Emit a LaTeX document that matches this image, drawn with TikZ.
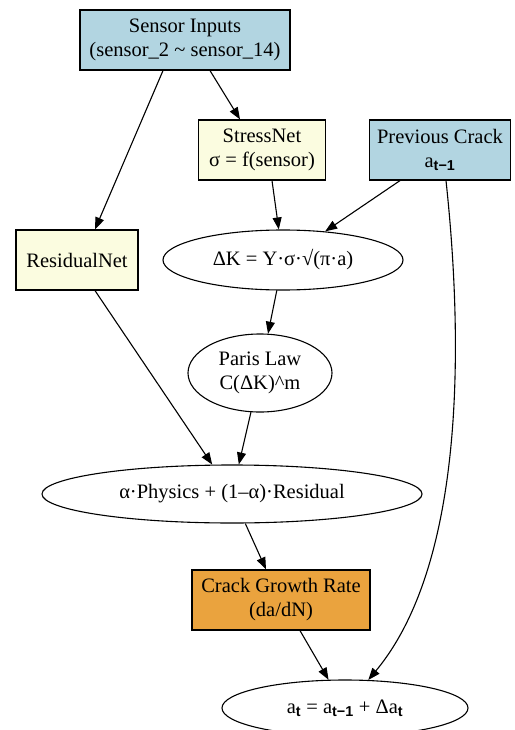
\documentclass[tikz,border=0pt]{standalone}
\usepackage{fontspec}
\setmainfont{Liberation Serif}
\newfontfamily\subf{Liberation Sans}
\usetikzlibrary{positioning, arrows.meta, shapes.geometric}
\definecolor{inblue}{HTML}{B2D5E1}
\definecolor{netyellow}{HTML}{FBFCE0}
\definecolor{rateorange}{HTML}{EAA33E}
\newcommand{\sbs}[1]{\textsubscript{\subf\bfseries #1}}

\begin{document}
\begin{tikzpicture}[x=1pt, y=-1pt,
      every node/.style={font=\fontsize{20.5}{24}\selectfont, align=center},
      box/.style={draw, line width=1.2pt, rectangle, inner sep=0pt},
      inbox/.style={box, fill=inblue},
      netbox/.style={box, fill=netyellow},
      ratebox/.style={box, fill=rateorange},
      formula/.style={draw, line width=1.1pt, ellipse, inner sep=0pt},
      edge/.style={line width=1.1pt, -{Triangle[length=12pt, width=9pt]}}]

    \useasboundingbox (0,0) rectangle (514,730);

    \node[inbox, minimum width=210pt, minimum height=60pt] (sensor) at (185,40)
      {Sensor Inputs\\(sensor\_2 \textasciitilde{} sensor\_14)};
    \node[netbox, minimum width=127pt, minimum height=60pt] (stress) at (262,150)
      {StressNet\\σ = f(sensor)};
    \node[inbox, minimum width=141pt, minimum height=60pt] (prev) at (440,150)
      {Previous Crack\\a\sbs{t−1}};
    \node[netbox, minimum width=122pt, minimum height=60pt] (resid) at (77,260)
      {ResidualNet};
    \node[formula, minimum width=240pt, minimum height=60pt] (dk) at (283,260)
      {ΔK = Y·σ·√(π·a)};
    \node[formula, minimum width=144pt, minimum height=78pt] (paris) at (260,373)
      {Paris Law\\C(ΔK)\^{}m};
    \node[formula, minimum width=380pt, minimum height=58pt] (mix) at (232,494)
      {α·Physics + (1–α)·Residual};
    \node[ratebox, minimum width=178pt, minimum height=60pt] (rate) at (281,600)
      {Crack Growth Rate\\(da/dN)};
    \node[formula, minimum width=246pt, minimum height=56pt] (at) at (345,708)
      {a\sbs{t} = a\sbs{t−1} + Δa\sbs{t}};

    \draw[edge] (sensor.south -| 163,0) -- (resid.north -| 95,0);
    \draw[edge] (sensor.south -| 210,0) -- (stress.north -| 240,0);
    \draw[edge] (stress.south -| 272,0) -- (dk);
    \draw[edge] (prev.south -| 400,0) -- (dk);
    \draw[edge] (resid.south -| 95,0) -- (mix);
    \draw[edge] (dk) -- (paris);
    \draw[edge] (paris) -- (mix);
    \draw[edge] (mix) -- (rate.north -| 266,0);
    \draw[edge] (rate.south -| 300,0) -- (at);
    \draw[edge] (prev.south -| 446,0) .. controls (462,330) and (468,560) .. (at);
  \end{tikzpicture}
\end{document}
